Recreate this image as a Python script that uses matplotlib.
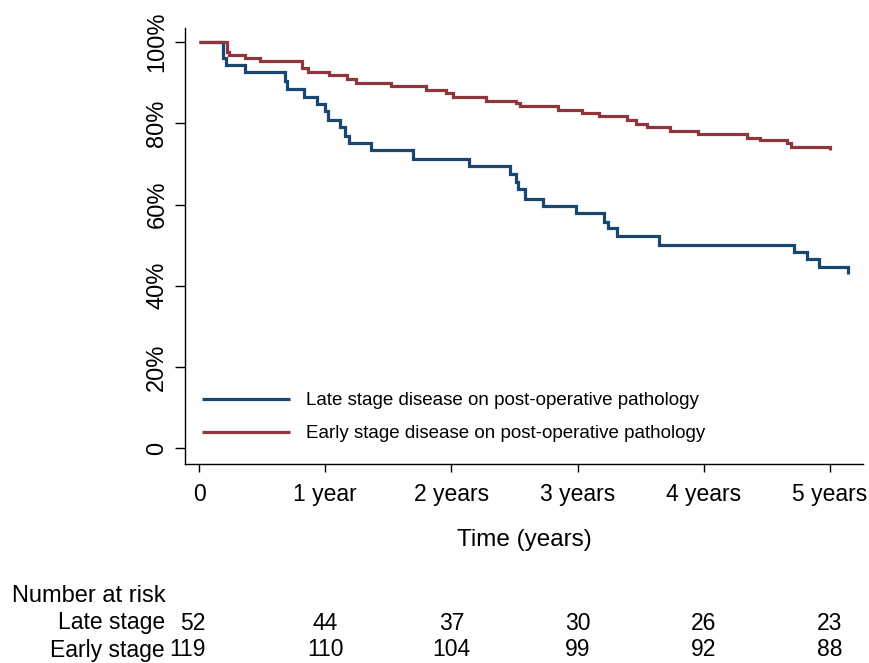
import matplotlib
matplotlib.use("Agg")
import matplotlib.pyplot as plt
import matplotlib.transforms as mtransforms

plt.rcParams['font.family'] = ['Liberation Sans', 'DejaVu Sans']

# ---- data ----
late_t = [0, 0.193, 0.212, 0.363, 0.678, 0.694, 0.829, 0.932, 0.999, 1.025, 1.118,
          1.158, 1.187, 1.365, 1.696, 2.141, 2.464, 2.512, 2.524, 2.584, 2.729,
          2.989, 3.206, 3.241, 3.312, 3.649, 4.716, 4.815, 4.915, 5.145]
late_s = [1.0, 0.9615, 0.9423, 0.9265, 0.904, 0.8855, 0.865, 0.847, 0.831, 0.808, 0.79,
          0.7696, 0.751, 0.733, 0.7115, 0.6936, 0.6757, 0.655, 0.637, 0.6145, 0.597,
          0.579, 0.558, 0.541, 0.523, 0.5007, 0.482, 0.465, 0.447, 0.428]

early_t = [0, 0.225, 0.238, 0.363, 0.483, 0.816, 0.861, 1.033, 1.174, 1.246, 1.524,
           1.797, 1.961, 2.009, 2.273, 2.512, 2.544, 2.848, 3.034, 3.166, 3.392,
           3.463, 3.551, 3.731, 3.953, 4.346, 4.446, 4.658, 4.690, 5.000]
early_s = [1.0, 0.9755, 0.967, 0.9615, 0.9534, 0.937, 0.9265, 0.919, 0.9086, 0.8995, 0.891,
           0.882, 0.874, 0.8645, 0.8554, 0.851, 0.843, 0.833, 0.825, 0.818, 0.808,
           0.799, 0.79, 0.781, 0.773, 0.764, 0.759, 0.752, 0.742, 0.735]

series_labels = ["Late stage disease on post-operative pathology",
                 "Early stage disease on post-operative pathology"]

x_ticks = [0, 1, 2, 3, 4, 5]
x_ticklabels = ["0", "1 year", "2 years", "3 years", "4 years", "5 years"]
y_ticks = [0, 0.2, 0.4, 0.6, 0.8, 1.0]
y_ticklabels = ["0", "20%", "40%", "60%", "80%", "100%"]

risk_times = [0, 1, 2, 3, 4, 5]
risk_late = [52, 44, 37, 30, 26, 23]
risk_early = [119, 110, 104, 99, 92, 88]
risk_row_labels = ["Late stage", "Early stage"]

# ---- figure ----
W, H = 870, 663
fig = plt.figure(figsize=(W / 100, H / 100), dpi=100)
ax = fig.add_axes([185 / W, 1 - 464 / H, (863 - 185) / W, (464 - 28.3) / H])

blue = '#1a476f'
red = '#90353b'
ax.step(late_t, late_s, where='post', color=blue, lw=2.3, label=series_labels[0],
        solid_joinstyle='miter', solid_capstyle='butt')
ax.step(early_t, early_s, where='post', color=red, lw=2.3, label=series_labels[1],
        solid_joinstyle='miter', solid_capstyle='butt')

ax.set_xlim(-0.111, 5.262)
ax.set_ylim(-0.0386, 1.0337)

FS = 17
ax.set_xticks(x_ticks)
ax.set_xticklabels(x_ticklabels, fontsize=16.5)
ax.set_yticks(y_ticks)
ax.set_yticklabels(y_ticklabels, fontsize=FS, rotation=90, va='center')

for s in ['top', 'right']:
    ax.spines[s].set_visible(False)
for s in ['left', 'bottom']:
    ax.spines[s].set_linewidth(1.0)
ax.tick_params(axis='x', length=6, width=1.0, pad=8)
ax.tick_params(axis='y', length=7, width=1.0, pad=5)

ax.set_xlabel("Time (years)", fontsize=17.5, labelpad=16)

leg = ax.legend(loc='lower left', bbox_to_anchor=(0.025, 0.05), frameon=False,
                fontsize=13.5, handlelength=4.7, handletextpad=0.85,
                labelspacing=0.85, borderpad=0, borderaxespad=0)

# ---- number at risk table ----
trans = mtransforms.blended_transform_factory(ax.transData, fig.transFigure)
fig.text(12 / W, 1 - 596 / H, "Number at risk", fontsize=FS, ha='left', va='center')
rows_y = [623, 650]
NFS = 16.5
for lab, yy, vals in zip(risk_row_labels, rows_y, [risk_late, risk_early]):
    fig.text(165 / W, 1 - yy / H, lab, fontsize=16.5, ha='right', va='center')
    for i, (t, v) in enumerate(zip(risk_times, vals)):
        if i == 0:
            ax.text(t + 0.05, 1 - yy / H, str(v), fontsize=NFS, ha='right', va='center',
                    transform=trans, clip_on=False)
        else:
            ax.text(t, 1 - yy / H, str(v), fontsize=NFS, ha='center', va='center',
                    transform=trans, clip_on=False)

fig.savefig("out.png", dpi=100)
